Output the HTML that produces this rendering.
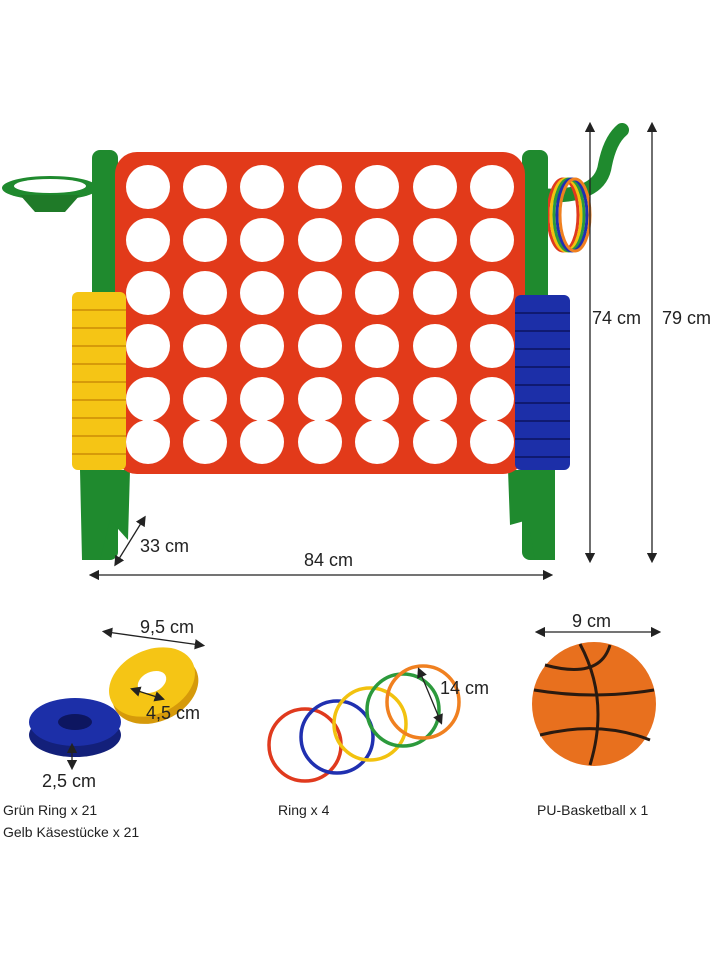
<!DOCTYPE html>
<html><head><meta charset="utf-8"><style>
html,body{margin:0;padding:0;background:#fff;width:720px;height:960px;overflow:hidden}
text{font-family:"Liberation Sans",sans-serif;fill:#222}
</style></head><body>
<svg width="720" height="960" viewBox="0 0 720 960" xmlns="http://www.w3.org/2000/svg">
<defs>
<marker id="a" markerWidth="8" markerHeight="8" refX="4" refY="4" orient="auto-start-reverse"><path d="M0,0 L8,4 L0,8 z" fill="#222"/></marker>
</defs>
<!-- left hoop -->
<ellipse cx="50" cy="188" rx="48" ry="12" fill="#1f8a2e"/>
<ellipse cx="50" cy="186" rx="36" ry="7" fill="#fff"/>
<path d="M20,195 L35,212 L65,212 L80,195 z" fill="#1f7a28"/>
<!-- right hook -->
<path d="M535,195 Q600,200 605,165 Q610,140 622,130" fill="none" stroke="#1f8a2e" stroke-width="14" stroke-linecap="round"/>
<!-- hanging rings -->
<ellipse cx="563" cy="215" rx="15" ry="36" fill="none" stroke="#e03a1e" stroke-width="3"/>
<ellipse cx="566" cy="215" rx="15" ry="36" fill="none" stroke="#f2c20f" stroke-width="3"/>
<ellipse cx="569" cy="215" rx="15" ry="36" fill="none" stroke="#2c9a3c" stroke-width="3"/>
<ellipse cx="572" cy="215" rx="15" ry="36" fill="none" stroke="#2030b0" stroke-width="3"/>
<ellipse cx="575" cy="215" rx="15" ry="36" fill="none" stroke="#f08020" stroke-width="3"/>
<!-- posts -->
<rect x="92" y="150" width="26" height="410" rx="8" fill="#1f8a2e"/>
<rect x="522" y="150" width="26" height="410" rx="8" fill="#1f8a2e"/>
<path d="M80,470 L130,470 L128,540 L110,520 L100,560 L82,560 z" fill="#1f8a2e"/>
<path d="M508,470 L555,470 L555,560 L535,560 L528,520 L510,525 z" fill="#1f8a2e"/>
<!-- red board -->
<rect x="115" y="152" width="410" height="322" rx="22" fill="#e23a1a"/>
<g fill="#fff">
<g id="row">
<circle cx="148" cy="187" r="22"/><circle cx="205" cy="187" r="22"/><circle cx="262" cy="187" r="22"/><circle cx="320" cy="187" r="22"/><circle cx="377" cy="187" r="22"/><circle cx="435" cy="187" r="22"/><circle cx="492" cy="187" r="22"/>
</g>
<use href="#row" y="53"/><use href="#row" y="106"/><use href="#row" y="159"/><use href="#row" y="212"/><use href="#row" y="255"/>
</g>
<!-- yellow stack -->
<rect x="72" y="292" width="54" height="178" rx="6" fill="#f5c515"/>
<g stroke="#d69a0a" stroke-width="2">
<line x1="72" y1="310" x2="126" y2="310"/><line x1="72" y1="328" x2="126" y2="328"/><line x1="72" y1="346" x2="126" y2="346"/><line x1="72" y1="364" x2="126" y2="364"/><line x1="72" y1="382" x2="126" y2="382"/><line x1="72" y1="400" x2="126" y2="400"/><line x1="72" y1="418" x2="126" y2="418"/><line x1="72" y1="436" x2="126" y2="436"/><line x1="72" y1="454" x2="126" y2="454"/>
</g>
<!-- blue stack -->
<rect x="515" y="295" width="55" height="175" rx="6" fill="#1c2fa8"/>
<g stroke="#101a70" stroke-width="2">
<line x1="515" y1="313" x2="570" y2="313"/><line x1="515" y1="331" x2="570" y2="331"/><line x1="515" y1="349" x2="570" y2="349"/><line x1="515" y1="367" x2="570" y2="367"/><line x1="515" y1="385" x2="570" y2="385"/><line x1="515" y1="403" x2="570" y2="403"/><line x1="515" y1="421" x2="570" y2="421"/><line x1="515" y1="439" x2="570" y2="439"/><line x1="515" y1="457" x2="570" y2="457"/>
</g>
<!-- dimension lines -->
<g stroke="#222" stroke-width="1.3">
<line x1="590" y1="127" x2="590" y2="558" marker-start="url(#a)" marker-end="url(#a)"/>
<line x1="652" y1="127" x2="652" y2="558" marker-start="url(#a)" marker-end="url(#a)"/>
<line x1="94" y1="575" x2="548" y2="575" marker-start="url(#a)" marker-end="url(#a)"/>
<line x1="143" y1="520" x2="117" y2="562" marker-start="url(#a)" marker-end="url(#a)"/>
<line x1="107" y1="632" x2="200" y2="645" marker-start="url(#a)" marker-end="url(#a)"/>
<line x1="540" y1="632" x2="656" y2="632" marker-start="url(#a)" marker-end="url(#a)"/>
</g>
<text x="592" y="324" font-size="18">74 cm</text>
<text x="662" y="324" font-size="18">79 cm</text>
<text x="304" y="566" font-size="18">84 cm</text>
<text x="140" y="552" font-size="18">33 cm</text>
<!-- pieces -->
<ellipse cx="75" cy="735" rx="46" ry="22" fill="#13207a"/>
<ellipse cx="75" cy="722" rx="46" ry="24" fill="#1c2fa8"/>
<ellipse cx="75" cy="722" rx="17" ry="8" fill="#0d1660"/>
<g transform="rotate(-25 152 682)">
<ellipse cx="152" cy="690" rx="45" ry="32" fill="#d69a0a"/>
<ellipse cx="152" cy="682" rx="45" ry="32" fill="#f5c515"/>
<ellipse cx="152" cy="682" rx="15" ry="10" fill="#fff"/>
</g>
<g stroke="#222" stroke-width="1.3">
<line x1="135" y1="690" x2="160" y2="698" marker-start="url(#a)" marker-end="url(#a)"/>
<line x1="72" y1="748" x2="72" y2="765" marker-start="url(#a)" marker-end="url(#a)"/>
</g>
<text x="140" y="633" font-size="18">9,5 cm</text>
<text x="146" y="719" font-size="18">4,5 cm</text>
<text x="42" y="787" font-size="18">2,5 cm</text>
<!-- rings -->
<g fill="none" stroke-width="3.5">
<circle cx="305" cy="745" r="36" stroke="#e03a1e"/>
<circle cx="337" cy="737" r="36" stroke="#2030b0"/>
<circle cx="370" cy="724" r="36" stroke="#f2c20f"/>
<circle cx="403" cy="710" r="36" stroke="#2c9a3c"/>
<circle cx="423" cy="702" r="36" stroke="#f08020"/>
</g>
<line x1="420" y1="672" x2="440" y2="720" stroke="#222" stroke-width="1.3" marker-start="url(#a)" marker-end="url(#a)"/>
<text x="440" y="694" font-size="18">14 cm</text>
<!-- basketball -->
<circle cx="594" cy="704" r="62" fill="#e8701e"/>
<g fill="none" stroke="#2a1a10" stroke-width="3">
<path d="M534,690 Q594,700 654,690"/>
<path d="M580,644 Q610,700 590,765"/>
<path d="M545,665 Q600,680 610,645"/>
<path d="M540,735 Q600,720 650,740"/>
</g>
<text x="572" y="627" font-size="18">9 cm</text>
<!-- labels -->
<text x="3" y="815" font-size="14">Grün Ring x 21</text>
<text x="3" y="837" font-size="14">Gelb Käsestücke x 21</text>
<text x="278" y="815" font-size="14">Ring x 4</text>
<text x="537" y="815" font-size="14">PU-Basketball x 1</text>
</svg>
</body></html>
